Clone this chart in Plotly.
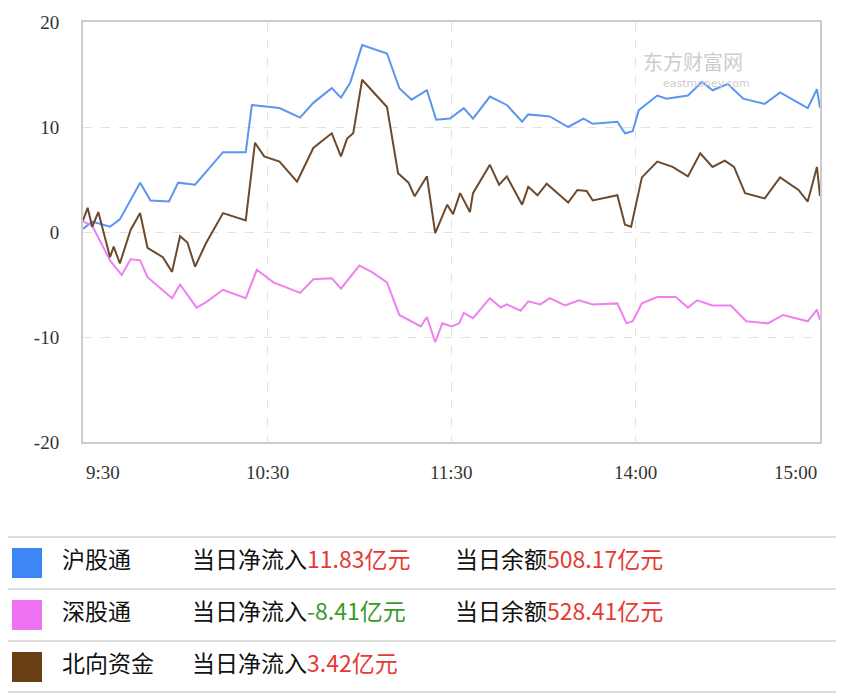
import plotly.graph_objects as go

# minutes since 9:30 (trading time, lunch break removed), values in 亿元
hu_t = [0, 3, 8.8, 12, 18.6, 22, 28, 31, 36.5, 45.6, 53, 55, 64, 70.7, 75, 81, 84, 87, 90.9, 99,
        103, 107, 112, 115, 119.5, 124, 127, 132.5, 138, 143, 145, 152, 158, 163, 166, 174, 176.5,
        179, 181, 187, 190, 197, 201.6, 205, 210, 215, 222, 227, 236, 239, 240]
hu_v = [0.3, 1.0, 0.5, 1.2, 4.7, 3.0, 2.9, 4.7, 4.5, 7.6, 7.6, 12.1, 11.8, 10.9, 12.3, 13.7, 12.8, 14.2, 17.8, 17.0,
        13.7, 12.6, 13.5, 10.7, 10.8, 11.8, 10.8, 12.9, 12.1, 10.5, 11.2, 11.0, 10.0, 10.8, 10.3, 10.5, 9.4,
        9.6, 11.6, 13.0, 12.7, 13.0, 14.3, 13.5, 14.1, 12.7, 12.2, 13.3, 11.8, 13.6, 11.83]

shen_t = [0, 3, 8.8, 12.6, 15.5, 18.6, 21, 26, 29, 31.6, 37, 40, 45.6, 53, 56.6, 62, 70.7, 75, 81, 84,
          90, 94, 99, 103, 110, 112, 114.7, 117, 120, 122.5, 124, 127, 132.5, 136, 138, 142.5, 145, 149,
          152, 157, 161.5, 166, 174, 177, 179, 182, 187, 193, 197, 200, 205, 211, 216, 223, 228, 236, 239, 240]
shen_v = [1.0, 0.6, -2.7, -4.1, -2.6, -2.7, -4.3, -5.5, -6.3, -5.0, -7.2, -6.7, -5.5, -6.3, -3.6, -4.8, -5.8, -4.5, -4.4, -5.4,
          -3.2, -3.8, -4.8, -7.9, -9.0, -8.1, -10.5, -8.7, -9.0, -8.7, -7.7, -8.2, -6.3, -7.2, -6.9, -7.5, -6.6, -6.9,
          -6.3, -7.0, -6.5, -6.9, -6.8, -8.7, -8.5, -6.8, -6.2, -6.2, -7.2, -6.5, -7.0, -7.0, -8.5, -8.7, -7.9, -8.5, -7.4, -8.41]

north_t = [0, 1.5, 3, 5, 8.8, 10, 12, 15.5, 18.6, 21, 26, 29, 31.6, 34, 36.5, 40, 45.6, 53, 56, 59,
           64, 69.7, 75, 81, 84, 86, 88, 90.9, 94, 99, 102.6, 106, 108, 112, 114.7, 118.6, 120.5, 122.8,
           126, 127, 132.5, 135.5, 138, 143, 145, 148, 151, 158, 161, 164, 166, 174, 176.5, 178.5, 182,
           187, 192, 197, 201, 205, 209, 212, 215.6, 222, 227, 233, 236, 239, 240]
north_v = [1.1, 2.3, 0.5, 1.9, -2.4, -1.4, -3.0, 0.2, 1.8, -1.5, -2.4, -3.8, -0.4, -1.0, -3.3, -1.1, 1.8, 1.1, 8.5, 7.2,
           6.7, 4.8, 8.0, 9.4, 7.2, 8.9, 9.4, 14.5, 13.5, 11.9, 5.6, 4.7, 3.4, 5.3, -0.1, 2.6, 1.7, 3.7,
           1.9, 3.7, 6.4, 4.5, 5.3, 2.6, 4.3, 3.5, 4.6, 2.8, 4.0, 3.9, 3.0, 3.5, 0.7, 0.5, 5.2,
           6.7, 6.2, 5.3, 7.5, 6.2, 6.8, 6.2, 3.7, 3.2, 5.2, 4.0, 2.9, 6.2, 3.42]

x_ticks = [6.5, 60, 120, 180, 232]
x_labels = ["9:30", "10:30", "11:30", "14:00", "15:00"]
y_ticks = [-20, -10, 0, 10, 20]
y_labels = ["-20", "-10", "0", "10", "20"]

names = ["沪股通", "深股通", "北向资金"]
net_in = ["11.83", "-8.41", "3.42"]
balance = ["508.17", "528.41", None]

line_colors = ["#5b95f0", "#ee80f0", "#6b4a2e"]
box_colors = ["#3d86f5", "#ee72f2", "#6b3f14"]

fig = go.Figure()
for t, v, c in [(hu_t, hu_v, line_colors[0]), (shen_t, shen_v, line_colors[1]), (north_t, north_v, line_colors[2])]:
    fig.add_trace(go.Scatter(x=t, y=v, mode="lines", line=dict(color=c, width=2), hoverinfo="skip"))

# page body has an 8px margin, so work in page pixels and shift
OFF = 8
W, H = 844 - OFF, 700 - OFF
L, R, T, B = 83, 820, 22, 442


def px(x):
    return (x - L) / (R - L)


def py(y):
    return (B - y) / (B - T)


ann = []
for xv, lab in zip(x_ticks, x_labels):
    ann.append(dict(x=xv, y=-20, xref="x", yref="y", text=lab, showarrow=False, yshift=-30,
                    font=dict(family="Liberation Serif", size=19, color="#333")))

ann.append(dict(x=px(745), y=py(45), xref="paper", yref="paper", text="东方财富网", showarrow=False,
                font=dict(family="Noto Sans CJK SC", size=20, color="#cccccc")))
ann.append(dict(x=px(752), y=py(75), xref="paper", yref="paper", text="eastmoney.com", showarrow=False,
                font=dict(family="DejaVu Sans", size=11, color="#cccccc")))

shapes = []
for ry in [537, 589, 641, 692]:
    shapes.append(dict(type="line", xref="paper", yref="paper", x0=px(0), x1=px(844), y0=py(ry), y1=py(ry),
                       line=dict(color="#dddddd", width=2)))

cjk = "Noto Sans CJK SC"
for i, nm in enumerate(names):
    cy = 563 + 52 * i
    shapes.append(dict(type="rect", xref="paper", yref="paper", x0=px(12), x1=px(42), y0=py(cy - 15), y1=py(cy + 15),
                       fillcolor=box_colors[i], line=dict(width=0)))
    ty = py(cy + 14)
    ann.append(dict(x=px(60), y=ty, xref="paper", yref="paper", xanchor="left", text=nm, showarrow=False,
                    font=dict(family=cjk, size=23, color="#111")))
    c = "#3a9a2a" if net_in[i].startswith("-") else "#e53a32"
    ann.append(dict(x=px(190), y=ty, xref="paper", yref="paper", xanchor="left", showarrow=False,
                    text=f"当日净流入<span style='color:{c}'>{net_in[i]}亿元</span>",
                    font=dict(family=cjk, size=23, color="#111")))
    if balance[i]:
        ann.append(dict(x=px(453), y=ty, xref="paper", yref="paper", xanchor="left", showarrow=False,
                        text=f"当日余额<span style='color:#e53a32'>{balance[i]}亿元</span>",
                        font=dict(family=cjk, size=23, color="#111")))

fig.update_layout(
    width=W, height=H, showlegend=False,
    margin=dict(l=L - OFF, r=844 - R, t=T - OFF, b=700 - B, autoexpand=False),
    paper_bgcolor="white", plot_bgcolor="white",
    xaxis=dict(range=[0, 240], tickvals=[60, 120, 180], showticklabels=False, ticks="",
               showgrid=True, gridcolor="#e2e2e2", griddash="dash", gridwidth=1,
               showline=True, linecolor="#cccccc", linewidth=2, mirror=True, zeroline=False),
    yaxis=dict(range=[-20, 20], tickvals=y_ticks, ticktext=y_labels, ticks="", ticklabelstandoff=18,
               showgrid=True, gridcolor="#e2e2e2", griddash="dash", gridwidth=1,
               showline=True, linecolor="#cccccc", linewidth=2, mirror=True, zeroline=False,
               tickfont=dict(family="Liberation Serif", size=19, color="#333")),
    annotations=ann, shapes=shapes,
)

fig.write_html("out.html")
